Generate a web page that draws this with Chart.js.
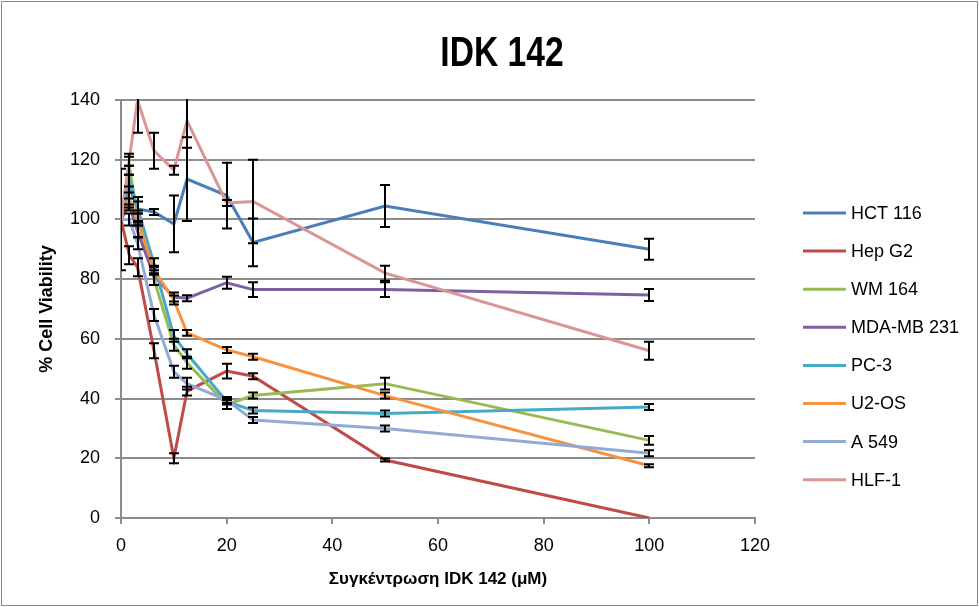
<!DOCTYPE html>
<html>
<head>
<meta charset="utf-8">
<script src="https://cdn.jsdelivr.net/npm/chart.js@4/dist/chart.umd.min.js"></script>
<style>
html,body{margin:0;padding:0;background:#fff;}
#wrap{width:979px;height:607px;position:relative;}
</style>
</head>
<body>
<div id="wrap"><canvas id="c" width="979" height="607"></canvas></div>
<script>
// ---- data ----
const chartTitle = "IDK 142";
const xTitle = "Συγκέντρωση IDK 142 (μM)";
const yTitle = "% Cell Viability";
const concentrations = [0, 1.56, 3.125, 6.25, 10, 12.5, 20, 25, 50, 100];
const seriesNames = ["HCT 116", "Hep G2", "WM 164", "MDA-MB 231", "PC-3", "U2-OS", "A 549", "HLF-1"];

const hct116   = [100, 111, 103.5, 102.5, 98.5, 113.5, 108, 92.3, 104.5, 90];
const hepG2    = [100, 88, 84, 56, 20, 42.5, 49.2, 47.5, 19.4, 0];
const wm164    = [100, 118, 101, 80, 58, 52, 38, 41, 45, 26];
const mdaMb231 = [100, 105, 96, 81, 74, 73.6, 78.8, 76.5, 76.5, 74.7];
const pc3      = [100, 113, 104, 85, 61, 55, 39, 36, 35, 37.2];
const u2os     = [100, 107, 100, 83, 73, 62, 56.3, 54, 41, 17.5];
const a549     = [100, 100, 92, 68, 49, 45, 39.5, 32.8, 30, 21.7];
const hlf1     = [100, 120, 140, 123, 116.5, 133, 105.5, 106, 82, 56];

const hct116Err   = [17, 7, 4, 1, 9.5, 14, 11, 8, 7, 3.5];
const hepG2Err    = [0, 3, 3, 2.5, 1.7, 1.5, 2.5, 1, 0.5, 0];
const wm164Err    = [0, 3, 2, 2, 2, 2, 1.5, 1, 2, 1.5];
const mdaMb231Err = [0, 2, 2, 3, 1.5, 1, 2, 2.5, 2.5, 2];
const pc3Err      = [0, 2, 2, 2, 2, 1.5, 1, 1, 1, 1];
const u2osErr     = [0, 2, 2, 1.5, 1.5, 1, 1, 1, 1, 0.5];
const a549Err     = [0, 2, 2, 2, 2, 2, 1, 1, 1, 1];
const hlf1Err     = [0, 2, 11, 6, 1.5, 9, 1, 14, 2.5, 3];

const xTicks = [0, 20, 40, 60, 80, 100, 120];
const yTicks = [0, 20, 40, 60, 80, 100, 120, 140];

const seriesValues = [hct116, hepG2, wm164, mdaMb231, pc3, u2os, a549, hlf1];
const seriesErrors = [hct116Err, hepG2Err, wm164Err, mdaMb231Err, pc3Err, u2osErr, a549Err, hlf1Err];
const seriesColors = ["#4A7EBB", "#BE4B48", "#98B954", "#7D60A0", "#46AAC5", "#F69240", "#93AAD4", "#D99694"];

const FONT = "'Liberation Sans', Arial, sans-serif";
const GRID = "#8c8c8c";

const datasets = seriesNames.map((name, i) => ({
  label: name,
  data: concentrations.map((x, j) => ({x: x, y: seriesValues[i][j]})),
  errors: seriesErrors[i],
  borderColor: seriesColors[i],
  backgroundColor: seriesColors[i],
  borderWidth: 3,
  pointRadius: 0,
  pointHoverRadius: 0,
  tension: 0,
  fill: false,
  order: seriesNames.length - i
}));

const errorBars = {
  id: 'errorBars',
  afterDatasetsDraw(chart) {
    const {ctx, chartArea, scales: {x, y}} = chart;
    ctx.save();
    ctx.beginPath();
    ctx.rect(chartArea.left, chartArea.top - 1, chartArea.right - chartArea.left, chartArea.bottom - chartArea.top + 2);
    ctx.clip();
    ctx.strokeStyle = '#000';
    ctx.lineWidth = 2;
    chart.data.datasets.forEach(ds => {
      ds.data.forEach((p, j) => {
        const e = ds.errors[j];
        if (!e) return;
        const px = Math.round(x.getPixelForValue(p.x));
        const yt = y.getPixelForValue(p.y + e);
        const yb = y.getPixelForValue(p.y - e);
        ctx.beginPath();
        ctx.moveTo(px, yt); ctx.lineTo(px, yb);
        ctx.moveTo(px - 5, yt); ctx.lineTo(px + 5, yt);
        ctx.moveTo(px - 5, yb); ctx.lineTo(px + 5, yb);
        ctx.stroke();
      });
    });
    ctx.restore();
  }
};

const decorations = {
  id: 'decorations',
  afterDraw(chart) {
    const ctx = chart.ctx;
    ctx.save();
    // outer frame
    ctx.strokeStyle = '#8a8a8a';
    ctx.lineWidth = 1;
    ctx.strokeRect(1.5, 1.5, chart.width - 3, chart.height - 3);
    // title (condensed)
    ctx.fillStyle = '#000';
    ctx.font = "bold 42px " + FONT;
    ctx.textAlign = 'center';
    ctx.textBaseline = 'middle';
    ctx.save();
    ctx.translate(502, 54);
    ctx.scale(0.8, 1);
    ctx.fillText(chartTitle, 0, 0);
    ctx.restore();
    // legend
    ctx.font = "18px " + FONT;
    ctx.textAlign = 'left';
    ctx.textBaseline = 'middle';
    chart.data.datasets.forEach((ds, i) => {
      const yy = 213 + i * 38.1;
      ctx.strokeStyle = ds.borderColor;
      ctx.lineWidth = 3;
      ctx.beginPath();
      ctx.moveTo(803, yy); ctx.lineTo(846, yy);
      ctx.stroke();
      ctx.fillStyle = '#000';
      ctx.fillText(ds.label, 851, yy + 1);
    });
    ctx.restore();
  }
};

new Chart(document.getElementById('c'), {
  type: 'line',
  data: {datasets: datasets},
  options: {
    responsive: false,
    animation: false,
    devicePixelRatio: 1,
    layout: {padding: {left: 20, top: 100, right: 224, bottom: 10}},
    plugins: {
      legend: {display: false},
      title: {display: false},
      tooltip: {enabled: false}
    },
    scales: {
      x: {
        type: 'linear',
        min: 0, max: 120,
        afterFit(s) { s.height = 79; },
        afterBuildTicks(s) { s.ticks = xTicks.map(v => ({value: v})); },
        grid: {drawOnChartArea: false, drawTicks: true, tickLength: 6, color: GRID, lineWidth: 2},
        border: {color: GRID, width: 2},
        ticks: {color: '#000', font: {family: FONT, size: 18}, padding: 11, maxRotation: 0},
        title: {display: true, text: xTitle, color: '#000', font: {family: FONT, size: 17, weight: 'bold'}, padding: {top: 0, bottom: 7}}
      },
      y: {
        type: 'linear',
        min: 0, max: 140,
        afterFit(s) { s.width = 101; },
        afterBuildTicks(s) { s.ticks = yTicks.map(v => ({value: v})); },
        grid: {drawTicks: true, tickLength: 6, color: GRID, lineWidth: 2},
        border: {color: GRID, width: 2},
        ticks: {color: '#000', font: {family: FONT, size: 18}, padding: 15},
        title: {display: true, text: yTitle, color: '#000', font: {family: FONT, size: 18, weight: 'bold'}, padding: {top: 16, bottom: 0}}
      }
    }
  },
  plugins: [errorBars, decorations]
});
</script>
</body>
</html>
